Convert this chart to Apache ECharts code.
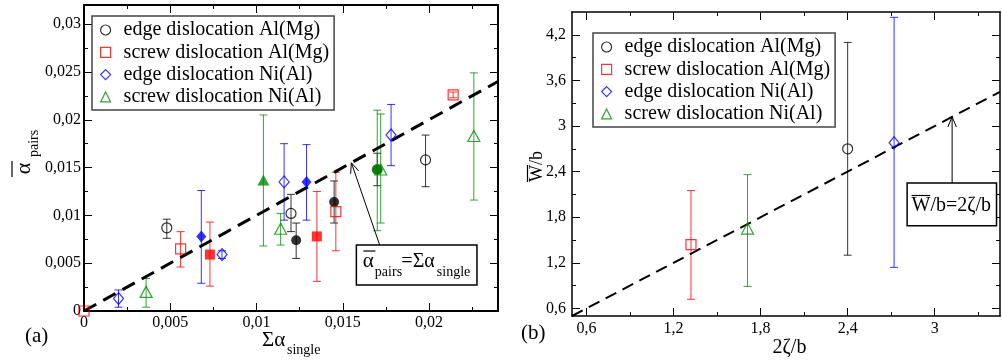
<!DOCTYPE html>
<html>
<head>
<meta charset="utf-8">
<script src="https://cdn.jsdelivr.net/npm/echarts@6/dist/echarts.min.js"></script>
<style>
  html, body { margin: 0; padding: 0; background: #fff; }
  #chart { width: 1002px; height: 363px; }
</style>
</head>
<body>
<div id="chart"></div>
<script>
// ---------- Panel (a): alpha_pairs vs. sum of alpha_single ----------
// every point: [x, y, yLow, yHigh]
const edgeAlMgOpen    = [[0.0048, 0.0087, 0.0076, 0.0096], [0.0120, 0.0102, 0.0083, 0.0122], [0.0198, 0.0158, 0.0130, 0.0184]];
const edgeAlMgFilled  = [[0.0123, 0.0074, 0.0055, 0.0092], [0.0145, 0.0114, 0.0092, 0.0136], [0.0170, 0.0148, 0.0131, 0.0165]];
const screwAlMgOpen   = [[0, 0, 0, 0], [0.0056, 0.0065, 0.0046, 0.0083], [0.0146, 0.0104, 0.0063, 0.0145], [0.0214, 0.0226, 0.0223, 0.0229]];
const screwAlMgFilled = [[0.0073, 0.0059, 0.0026, 0.0093], [0.0135, 0.0078, 0.0031, 0.0125]];
const edgeNiAlOpen    = [[0.0020, 0.0013, 0.0004, 0.0022], [0.0080, 0.0059, 0.0055, 0.0063], [0.0116, 0.0135, 0.0095, 0.0175], [0.0178, 0.0184, 0.0152, 0.0216]];
const edgeNiAlFilled  = [[0.0068, 0.0078, 0.0029, 0.0126], [0.0129, 0.0135, 0.0095, 0.0174]];
const screwNiAlOpen   = [[0.0036, 0.0020, 0.0004, 0.0034], [0.0114, 0.0086, 0.0069, 0.0102], [0.0172, 0.0148, 0.0092, 0.0206], [0.0226, 0.0183, 0.0116, 0.0249]];
const screwNiAlFilled = [[0.0104, 0.0137, 0.0068, 0.0205]];
const screwNiAlFilledRound = [[0.0170, 0.0148, 0.0084, 0.0210]];

// y = x reference line and its arrow: [tipX, tipY, tailX, tailY]
const refLineA = [[0, 0], [0.024, 0.024]];
const arrowA = [[0.0155, 0.0155, 0.01714, 0.0069]];

const ticksAx  = [0, 0.005, 0.01, 0.015, 0.02];
const minorsAx = [0.0025, 0.0075, 0.0125, 0.0175, 0.0225];
const ticksAy  = [0, 0.005, 0.01, 0.015, 0.02, 0.025, 0.03];
const minorsAy = [0.0025, 0.0075, 0.0125, 0.0175, 0.0225, 0.0275];

// ---------- Panel (b): mean width vs. 2 zeta / b ----------
const edgeAlMgB  = [[2.40, 2.70, 1.30, 4.10]];
const screwAlMgB = [[1.32, 1.44, 0.72, 2.15]];
const edgeNiAlB  = [[2.72, 2.78, 1.14, 4.43]];
const screwNiAlB = [[1.71, 1.65, 0.89, 2.36]];

const refLineB = [[0.5, 0.5], [3.45, 3.45]];
const arrowB = [[3.12, 3.12, 3.12, 2.25]];

const ticksBx  = [0.6, 1.2, 1.8, 2.4, 3];
const minorsBx = [0.9, 1.5, 2.1, 2.7, 3.3];
const ticksBy  = [0.6, 1.2, 1.8, 2.4, 3, 3.6, 4.2];
const minorsBy = [0.9, 1.5, 2.1, 2.7, 3.3, 3.9];

const legendNames = ['edge dislocation Al(Mg)', 'screw dislocation Al(Mg)', 'edge dislocation Ni(Al)', 'screw dislocation Ni(Al)'];

const SERIF = "'Liberation Serif', 'Times New Roman', serif";
const BLACK = '#000000', RED = '#ff0000', BLUE = '#0000ff', GREEN = '#008c00';

const fmt = v => String(v).replace('.', ',');

// four axes per side pair: main + minor-tick overlay, then the mirrored side
function axisSet(dim, grid, min, max, majors, minors, lineWidth, margin) {
  const sides = dim === 'x' ? ['bottom', 'top'] : ['left', 'right'];
  const out = [];
  sides.forEach((pos, s) => {
    [majors, minors].forEach((vals, k) => {
      out.push({
        type: 'value', gridIndex: grid, position: pos, min: min, max: max,
        axisLine: { show: k === 0, onZero: false, lineStyle: { color: '#000', width: lineWidth } },
        axisTick: { show: true, inside: true, length: k === 0 ? 8 : 4, customValues: vals,
                    lineStyle: { color: '#000', width: 1 } },
        axisLabel: { show: s === 0 && k === 0, customValues: majors, margin: margin, formatter: fmt,
                     color: '#000', fontFamily: SERIF, fontSize: 16 },
        splitLine: { show: false }
      });
    });
  });
  return out;
}

function marks(name, pts, symbol, size, color, filled, ai) {
  return {
    type: 'scatter', name: name, xAxisIndex: ai, yAxisIndex: ai, z: 5, silent: true,
    symbol: symbol, symbolSize: size,
    data: pts.map(p => [p[0], p[1]]),
    itemStyle: filled ? { color: color }
                      : { color: 'rgba(0,0,0,0)', borderColor: color, borderWidth: 1.2 }
  };
}

function bars(pts, color, ai) {
  return {
    type: 'custom', xAxisIndex: ai, yAxisIndex: ai, z: 3, silent: true,
    data: pts, encode: { x: 0, y: [2, 3] },
    renderItem: (params, api) => {
      const x = api.value(0), lo = api.value(2), hi = api.value(3);
      if (hi === lo) return { type: 'group', children: [] };
      const t = api.coord([x, hi]), b = api.coord([x, lo]);
      const st = { stroke: color, lineWidth: 1, opacity: 0.8 };
      const cap = 4;
      return { type: 'group', children: [
        { type: 'line', shape: { x1: t[0], y1: t[1], x2: b[0], y2: b[1] }, style: st },
        { type: 'line', shape: { x1: t[0] - cap, y1: t[1], x2: t[0] + cap, y2: t[1] }, style: st },
        { type: 'line', shape: { x1: b[0] - cap, y1: b[1], x2: b[0] + cap, y2: b[1] }, style: st }
      ]};
    }
  };
}

function group(name, pts, symbol, size, color, filled, ai) {
  return [bars(pts, color, ai), marks(name, pts, symbol, size, color, filled, ai)];
}

function txt(x, y, text, size, align) {
  return { type: 'text', x: x, y: y, style: { text: text, fontFamily: SERIF, fontSize: size, fill: '#000',
           align: align || 'left', verticalAlign: 'middle' } };
}
function seg(x1, y1, x2, y2, w) {
  return { type: 'line', shape: { x1: x1, y1: y1, x2: x2, y2: y2 }, style: { stroke: '#000', lineWidth: w || 1 } };
}

// arrow from a labelled box to the reference line
function annotation(data, ai, boxDx, boxW, boxH, content) {
  return {
    type: 'custom', xAxisIndex: ai, yAxisIndex: ai, z: 6, silent: true, data: data,
    encode: { x: [0, 2], y: [1, 3] },
    renderItem: (params, api) => {
      const tip = api.coord([api.value(0), api.value(1)]);
      const tail = api.coord([api.value(2), api.value(3)]);
      const ang = Math.atan2(tail[1] - tip[1], tail[0] - tip[0]);
      const L = 11, sp = 0.4;
      const h1 = [tip[0] + L * Math.cos(ang + sp), tip[1] + L * Math.sin(ang + sp)];
      const h2 = [tip[0] + L * Math.cos(ang - sp), tip[1] + L * Math.sin(ang - sp)];
      const bx = tail[0] + boxDx, by = tail[1];
      return { type: 'group', children: [
        seg(tail[0], tail[1], tip[0], tip[1], 1),
        { type: 'polyline', shape: { points: [h1, tip, h2] }, style: { stroke: '#000', fill: null, lineWidth: 1 } },
        { type: 'rect', shape: { x: bx, y: by, width: boxW, height: boxH },
          style: { fill: '#fff', stroke: '#000', lineWidth: 1.5 } }
      ].concat(content(bx, by)) };
    }
  };
}

const series = [].concat(
  // panel (a)
  [{ type: 'line', xAxisIndex: 0, yAxisIndex: 0, data: refLineA, symbol: 'none', silent: true, z: 4,
     lineStyle: { color: '#000', width: 3, type: [14, 8] } }],
  group(legendNames[0], edgeAlMgOpen, 'circle', 10, BLACK, false, 0),
  group('edge Al(Mg) filled', edgeAlMgFilled, 'circle', 10, BLACK, true, 0),
  group(legendNames[1], screwAlMgOpen, 'rect', 10, RED, false, 0),
  group('screw Al(Mg) filled', screwAlMgFilled, 'rect', 10, RED, true, 0),
  group(legendNames[2], edgeNiAlOpen, 'diamond', [10, 12], BLUE, false, 0),
  group('edge Ni(Al) filled', edgeNiAlFilled, 'diamond', [10, 12], BLUE, true, 0),
  group(legendNames[3], screwNiAlOpen, 'triangle', [12, 11], GREEN, false, 0),
  group('screw Ni(Al) filled', screwNiAlFilled, 'triangle', [12, 11], GREEN, true, 0),
  group('screw Ni(Al) filled round', screwNiAlFilledRound, 'circle', 11, GREEN, true, 0),
  [annotation(arrowA, 0, -23.3, 120.6, 40, (bx, by) => [
    seg(bx + 7, by + 6, bx + 19, by + 6, 1.2),
    txt(bx + 6.5, by + 16.5, 'α', 21),
    txt(bx + 18.5, by + 27.5, 'pairs', 14),
    txt(bx + 45, by + 16.5, '=Σα', 20),
    txt(bx + 80.5, by + 27.5, 'single', 14)
  ])],
  // panel (b)
  [{ type: 'line', xAxisIndex: 4, yAxisIndex: 4, data: refLineB, symbol: 'none', silent: true, z: 4,
     lineStyle: { color: '#000', width: 2, type: [12, 7] } }],
  group(legendNames[0], edgeAlMgB, 'circle', 10, BLACK, false, 4),
  group(legendNames[1], screwAlMgB, 'rect', 10, RED, false, 4),
  group(legendNames[2], edgeNiAlB, 'diamond', [10, 12], BLUE, false, 4),
  group(legendNames[3], screwNiAlB, 'triangle', [12, 11], GREEN, false, 4),
  [annotation(arrowB, 4, -45, 89.4, 42.7, (bx, by) => [
    seg(bx + 4.5, by + 12.5, bx + 23, by + 12.5, 1.2),
    txt(bx + 4.4, by + 22.7, 'W/b=2ζ/b', 20)
  ])]
);

function legendAt(left, top) {
  return {
    left: left, top: top, orient: 'vertical', selectedMode: false,
    itemWidth: 10, itemHeight: 10, itemGap: 0.3,
    padding: [3, 5, 2, 8],
    borderColor: '#444', borderWidth: 1.5, backgroundColor: '#fff',
    itemStyle: { borderWidth: 1.2 },
    textStyle: { fontFamily: SERIF, fontSize: 20, color: '#000', lineHeight: 22, padding: [0, 0, 0, 8] },
    data: legendNames
  };
}

const option = {
  animation: false,
  backgroundColor: '#fff',
  textStyle: { fontFamily: SERIF },
  grid: [
    { left: 84, top: 5, right: 504, bottom: 52, outerBoundsMode: 'none' },
    { left: 572, top: 12, right: 2, bottom: 47, outerBoundsMode: 'none' }
  ],
  xAxis: [].concat(
    axisSet('x', 0, 0, 0.024, ticksAx, minorsAx, 2, 4),
    axisSet('x', 1, 0.5, 3.45, ticksBx, minorsBx, 1.5, 5)
  ),
  yAxis: [].concat(
    axisSet('y', 0, 0, 0.032, ticksAy, minorsAy, 2, 3),
    axisSet('y', 1, 0.5, 4.5, ticksBy, minorsBy, 1.5, 6)
  ),
  legend: [legendAt(92, 16), legendAt(593, 33)],
  series: series,
  graphic: [
    // panel (a) axis titles
    txt(262, 340, 'Σα', 21),
    txt(287, 350, 'single', 14),
    { type: 'group', x: 24, y: 179, rotation: Math.PI / 2, children: [
      seg(2, -12, 18, -12, 1.2),
      txt(10.5, 0, 'α', 22, 'center'),
      txt(22, 10, 'pairs', 14)
    ]},
    txt(36.7, 336, '(a)', 21, 'center'),
    // panel (b) axis titles
    txt(789.5, 348, '2ζ/b', 20, 'center'),
    { type: 'group', x: 537.5, y: 182, rotation: Math.PI / 2, children: [
      seg(0, -10, 17, -10, 1.2),
      txt(0, 0, 'W/b', 18)
    ]},
    txt(533.3, 333, '(b)', 21, 'center')
  ]
};

const chart = echarts.init(document.getElementById('chart'), null, { renderer: 'canvas' });
chart.setOption(option);
</script>
</body>
</html>
